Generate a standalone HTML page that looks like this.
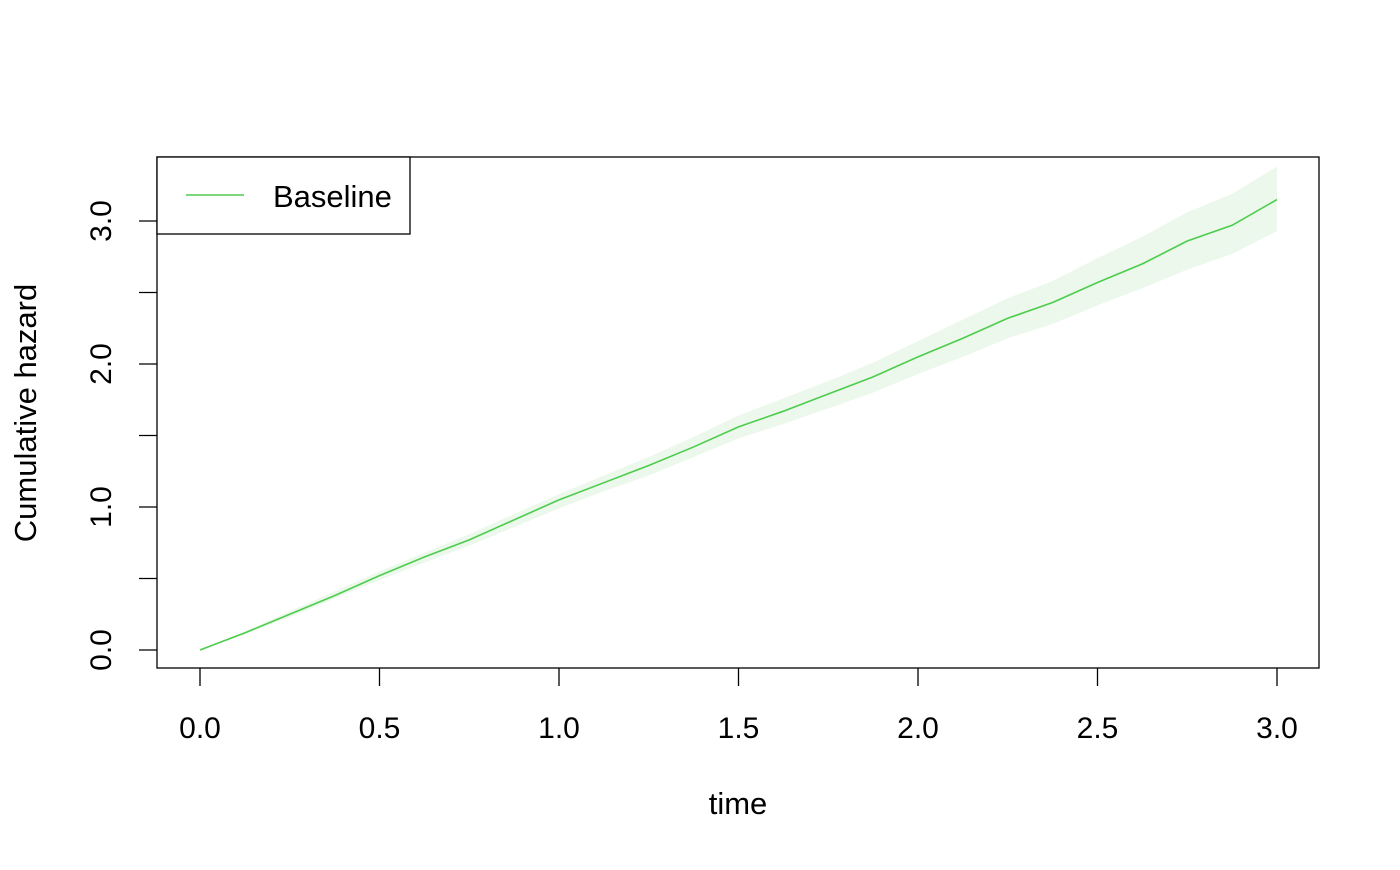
<!DOCTYPE html>
<html><head><meta charset="utf-8"><style>
body{margin:0;background:#fff}
svg text{font-family:"Liberation Sans",sans-serif;fill:#000}
</style></head><body>
<svg id="chart" width="1400" height="865">
<g id="band"></g>
<g id="line"></g>
<rect x="157" y="157" width="1162" height="511" fill="none" stroke="#000" stroke-width="1.3"/>
<g id="xaxis"></g>
<g id="yaxis"></g>
<text x="738" y="814" font-size="31" text-anchor="middle">time</text>
<text transform="translate(36,413) rotate(-90)" font-size="31" text-anchor="middle">Cumulative hazard</text>
<g>
<rect x="157" y="157" width="253" height="77" fill="#fff" stroke="#000" stroke-width="1.3"/>
<line x1="186" y1="195" x2="244" y2="195" stroke="#4dcc4d" stroke-width="1.5"/>
<text x="273" y="207" font-size="31">Baseline</text>
</g>
</svg>
<script>
const times=[0,0.125,0.25,0.375,0.5,0.625,0.75,0.875,1.0,1.125,1.25,1.375,1.5,1.625,1.75,1.875,2.0,2.125,2.25,2.375,2.5,2.625,2.75,2.875,3.0];
const hazard=[0,0.12,0.25,0.38,0.52,0.65,0.77,0.91,1.05,1.17,1.29,1.42,1.56,1.67,1.79,1.91,2.05,2.18,2.32,2.43,2.57,2.70,2.86,2.97,3.15];
const upper=[0,0.13,0.27,0.41,0.55,0.68,0.81,0.95,1.09,1.22,1.35,1.49,1.64,1.76,1.88,2.01,2.16,2.31,2.46,2.58,2.74,2.89,3.06,3.19,3.38];
const lower=[0,0.11,0.23,0.36,0.49,0.61,0.73,0.86,0.99,1.11,1.22,1.35,1.48,1.58,1.69,1.80,1.93,2.05,2.18,2.28,2.41,2.53,2.66,2.77,2.93];
const xTicks=[0,0.5,1.0,1.5,2.0,2.5,3.0];
const xTickLabels=["0.0","0.5","1.0","1.5","2.0","2.5","3.0"];
const yTicks=[0,0.5,1,1.5,2,2.5,3];
const yTickLabels=["0.0","","1.0","","2.0","","3.0"];
const NS="http://www.w3.org/2000/svg";
const X=v=>200+v*359, Y=v=>650-v*143;
function mk(t,a,p){const e=document.createElementNS(NS,t);for(const k in a)e.setAttribute(k,a[k]);p.appendChild(e);return e;}
let bp=times.map((t,i)=>X(t)+","+Y(upper[i])).concat(times.map((t,i)=>X(t)+","+Y(lower[i])).reverse()).join(" ");
const poly=mk("polygon",{points:bp,fill:"#ebf8eb"},document.getElementById("band"));


const pl=mk("polyline",{points:times.map((t,i)=>X(t)+","+Y(hazard[i])).join(" "),fill:"none",stroke:"#4dcc4d","stroke-width":1.6},document.getElementById("line"));


const xa=document.getElementById("xaxis");
mk("line",{x1:X(0),x2:X(3),y1:668,y2:668,stroke:"#000"},xa);
xTicks.forEach((v,i)=>{
 const l=mk("line",{x1:X(v),x2:X(v),y1:668,y2:686,stroke:"#000","stroke-width":1.3},xa);
 
 
 const t=mk("text",{x:X(v),y:738,"font-size":30,"text-anchor":"middle"},xa);t.textContent=xTickLabels[i];
 
 
});
const ya=document.getElementById("yaxis");
yTicks.forEach((v,i)=>{
 const l=mk("line",{x1:139,x2:157,y1:Y(v),y2:Y(v),stroke:"#000","stroke-width":1.3},ya);
 
 
 if(yTickLabels[i]){const t=mk("text",{transform:`translate(111,${Y(v)}) rotate(-90)`,"font-size":30,"text-anchor":"middle"},ya);t.textContent=yTickLabels[i];
 
 }
});
</script>
</body></html>
